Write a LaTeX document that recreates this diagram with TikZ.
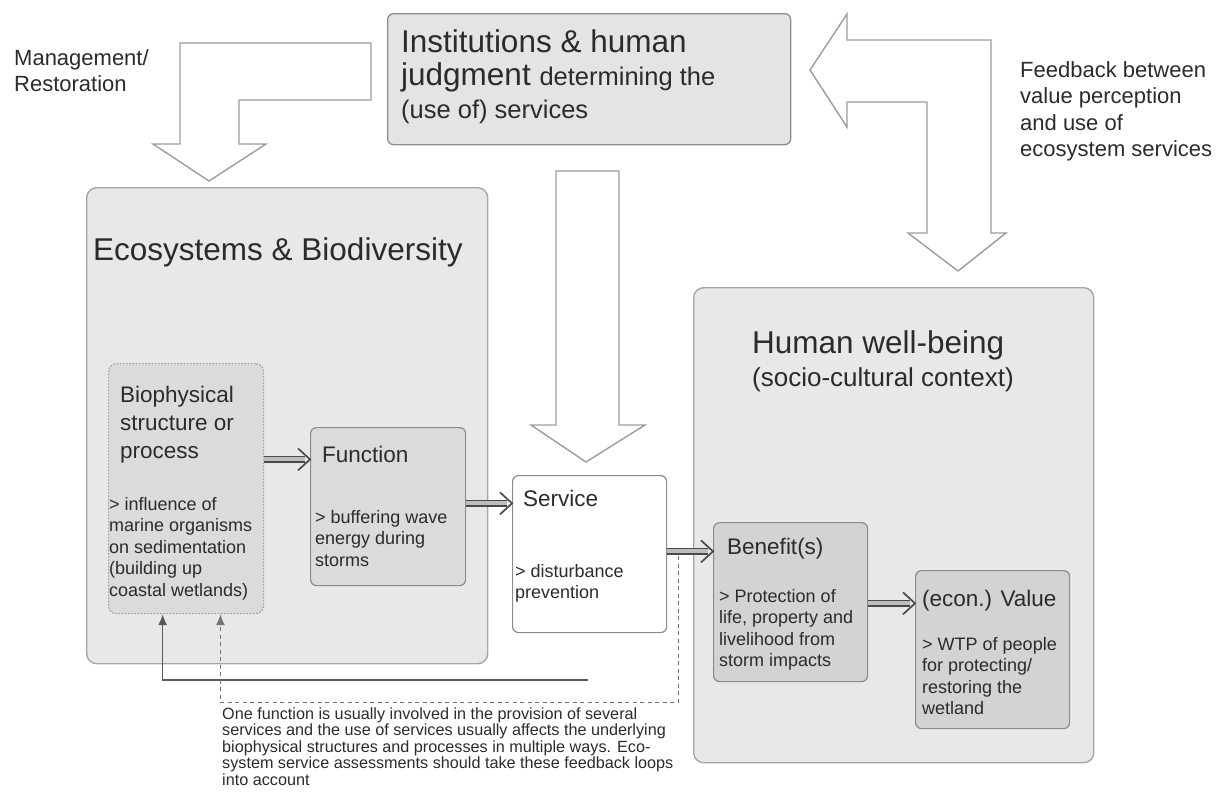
\documentclass[tikz,border=0pt]{standalone}
\usepackage{fontspec}
\setmainfont{Liberation Sans}
\usetikzlibrary{arrows.meta,calc}

\definecolor{ink}{HTML}{2B2B2B}
\definecolor{panelfill}{HTML}{E8E8E8}
\definecolor{panelline}{HTML}{A6A6A6}
\definecolor{instfill}{HTML}{E4E4E4}
\definecolor{instline}{HTML}{8E8E8E}
\definecolor{innerA}{HTML}{DBDBDB}
\definecolor{innerB}{HTML}{D3D3D3}
\definecolor{innerline}{HTML}{8C8C8C}
\definecolor{bigarrow}{HTML}{9C9C9C}
\definecolor{shaftline}{HTML}{4A4A4A}
\definecolor{shaftfill}{HTML}{BDBDBD}

% font size shortcuts (size / baseline skip, in pt)
\newcommand\fBig{\fontsize{31.5}{33}\selectfont}
\newcommand\fMid{\fontsize{25.5}{33}\selectfont}
\newcommand\fSub{\fontsize{26}{30}\selectfont}
\newcommand\fHead{\fontsize{22.5}{28}\selectfont}
\newcommand\fBody{\fontsize{18}{21.6}\selectfont}
\newcommand\fSide{\fontsize{22}{26.5}\selectfont}
\newcommand\fNote{\fontsize{16.2}{16.6}\selectfont}
\newcommand\lines[2]{\parbox[t]{#1}{\raggedright #2}}

% double-line connector with an open chevron tip
\newcommand\dblconn[2]{%
  \draw[dblshaft] (#1) -- ($(#2)+(-5,0)$);
  \draw[chevline] ($(#2)+(-12,-11)$) -- (#2) -- ($(#2)+(-12,11)$);}

\begin{document}
\begin{tikzpicture}[x=1pt,y=-1pt,
  panel/.style={draw=panelline, line width=1.4pt, fill=panelfill,
    rounded corners=10pt, inner sep=0pt, anchor=north west},
  instbox/.style={draw=instline, line width=1.3pt, fill=instfill,
    rounded corners=6pt, inner sep=0pt, anchor=north west},
  cell/.style={draw=innerline, line width=1.2pt, fill=#1,
    rounded corners=6pt, inner sep=0pt, anchor=north west,
    minimum width=155pt, minimum height=158pt},
  dotcell/.style={cell=innerA, draw=gray!75, dash pattern=on 1.6pt off 1.6pt,
    rounded corners=8pt},
  lbl/.style={inner sep=0pt, anchor=base west, text=ink},
  hollow/.style={draw=bigarrow, line width=1.4pt, fill=white, line join=miter},
  dblshaft/.style={draw=shaftline, line width=1.7pt, double=shaftfill,
    double distance=3.8pt},
  chevline/.style={draw=shaftline, line width=1.7pt, line join=miter},
  fbsolid/.style={draw=black!65, line width=1.3pt,
    -{Latex[length=11pt,width=9pt]}},
  fbdash/.style={draw=black!55, line width=1.2pt, dash pattern=on 4pt off 3.5pt,
    -{Latex[length=11pt,width=9pt]}}
]
\useasboundingbox (0,0) rectangle (1228,801);

% ---- large hollow arrows ----
\draw[hollow] (371,43) -- (180,43) -- (180,144) -- (153,144) -- (209,181)
  -- (266,144) -- (239,144) -- (239,100) -- (371,100) -- cycle;
\draw[hollow] (556,171) -- (619,171) -- (619,425) -- (645,425) -- (586,462)
  -- (531,425) -- (556,425) -- cycle;
\draw[hollow] (810,70) -- (847,14) -- (847,40) -- (991,40) -- (991,233)
  -- (1006,233) -- (958,271) -- (908,233) -- (927,233) -- (927,102)
  -- (847,102) -- (847,127) -- cycle;

% ---- side labels ----
\node[lbl] (mgmt) at (14,65) {\fSide\lines{200pt}{Management/\\Restoration}};
\node[lbl] (fdbk) at (1020,77) {\fSide\lines{220pt}{Feedback between\\value perception\\and use of\\ecosystem services}};

% ---- institutions ----
\node[instbox, minimum width=403pt, minimum height=131pt] (inst) at (387,13) {};
\node[lbl] (instT) at (401,52) {\fBig\lines{390pt}{Institutions \& human\\judgment {\fMid determining the}\\{\fMid (use of) services}}};

% ---- main panels ----
\node[panel, minimum width=401pt, minimum height=476pt] (eco) at (86,187) {};
\node[lbl] (ecoT) at (93,260) {\fBig Ecosystems \& Biodiversity};

\node[panel, minimum width=400pt, minimum height=475pt] (hwb) at (693,287) {};
\node[lbl] (hwbT) at (752,353) {\fBig Human well-being};
\node[lbl] (hwbS) at (752,386) {\fSub (socio-cultural context)};

% ---- chain of boxes ----
\node[dotcell, minimum height=250pt] (bio) at (108,363) {};
\node[lbl] (bioT) at (120,402) {\fHead\lines{140pt}{Biophysical\\structure or\\process}};
\node[lbl] (bioB) at (109,510) {\fBody\lines{160pt}{> influence of\\marine organisms\\on sedimentation\\(building up\\coastal wetlands)}};

\node[cell=innerA] (fun) at (310,427) {};
\node[lbl] (funT) at (322,462) {\fHead Function};
\node[lbl] (funB) at (315,523) {\fBody\lines{150pt}{> buffering wave\\energy during\\storms}};

\node[cell=white, minimum width=154pt, minimum height=157pt] (svc) at (512,475) {};
\node[lbl] (svcT) at (523,506) {\fHead Service};
\node[lbl] (svcB) at (515,577) {\fBody\lines{150pt}{> disturbance\\prevention}};

\node[cell=innerB, minimum width=154pt, minimum height=159pt] (ben) at (713,522) {};
\node[lbl] (benT) at (727,554) {\fHead Benefit(s)};
\node[lbl] (benB) at (719,602) {\fBody\lines{150pt}{> Protection of\\life, property and\\livelihood from\\storm impacts}};

\node[cell=innerB, minimum width=154pt] (val) at (915,570) {};
\node[lbl] (valT) at (922,606) {\fHead (econ.) Value};
\node[lbl] (valB) at (922,650) {\fBody\lines{150pt}{> WTP of people\\for protecting/\\restoring the\\wetland}};

% ---- double-line connectors ----
\coordinate (c1s) at (bio.east |- funT.mid);  \coordinate (c1e) at (fun.west |- funT.mid);
\coordinate (c2s) at (fun.east |- svcT.mid);  \coordinate (c2e) at (svc.west |- svcT.mid);
\coordinate (c3s) at (svc.east |- benT.mid);  \coordinate (c3e) at (ben.west |- benT.mid);
\coordinate (c4s) at (ben.east |- valT.mid);  \coordinate (c4e) at (val.west |- valT.mid);
\dblconn{c1s}{c1e}
\dblconn{c2s}{c2e}
\dblconn{c3s}{c3e}
\dblconn{c4s}{c4e}

% ---- feedback loops back to the biophysical level ----
\coordinate (bioIn1) at ($(bio.south west)!0.35!(bio.south east)$);
\coordinate (bioIn2) at ($(bio.south west)!0.72!(bio.south east)$);
\coordinate (solidStart) at (588,680);
\coordinate (dashTop) at ($(c3s)+(11,5)$);
\coordinate (dashTurn) at ($(c3s)+(11,151)$);
\draw[fbsolid] (solidStart) -| (bioIn1);
\draw[fbdash] (dashTop) -- (dashTurn) -| (bioIn2);

% ---- note ----
\node[lbl] (note) at (222,719) {\fNote\lines{470pt}{One function is usually involved in the provision of several\\services and the use of services usually affects the underlying\\biophysical structures and processes in multiple ways. Eco-\\system service assessments should take these feedback loops\\into account}};
\end{tikzpicture}
\end{document}
